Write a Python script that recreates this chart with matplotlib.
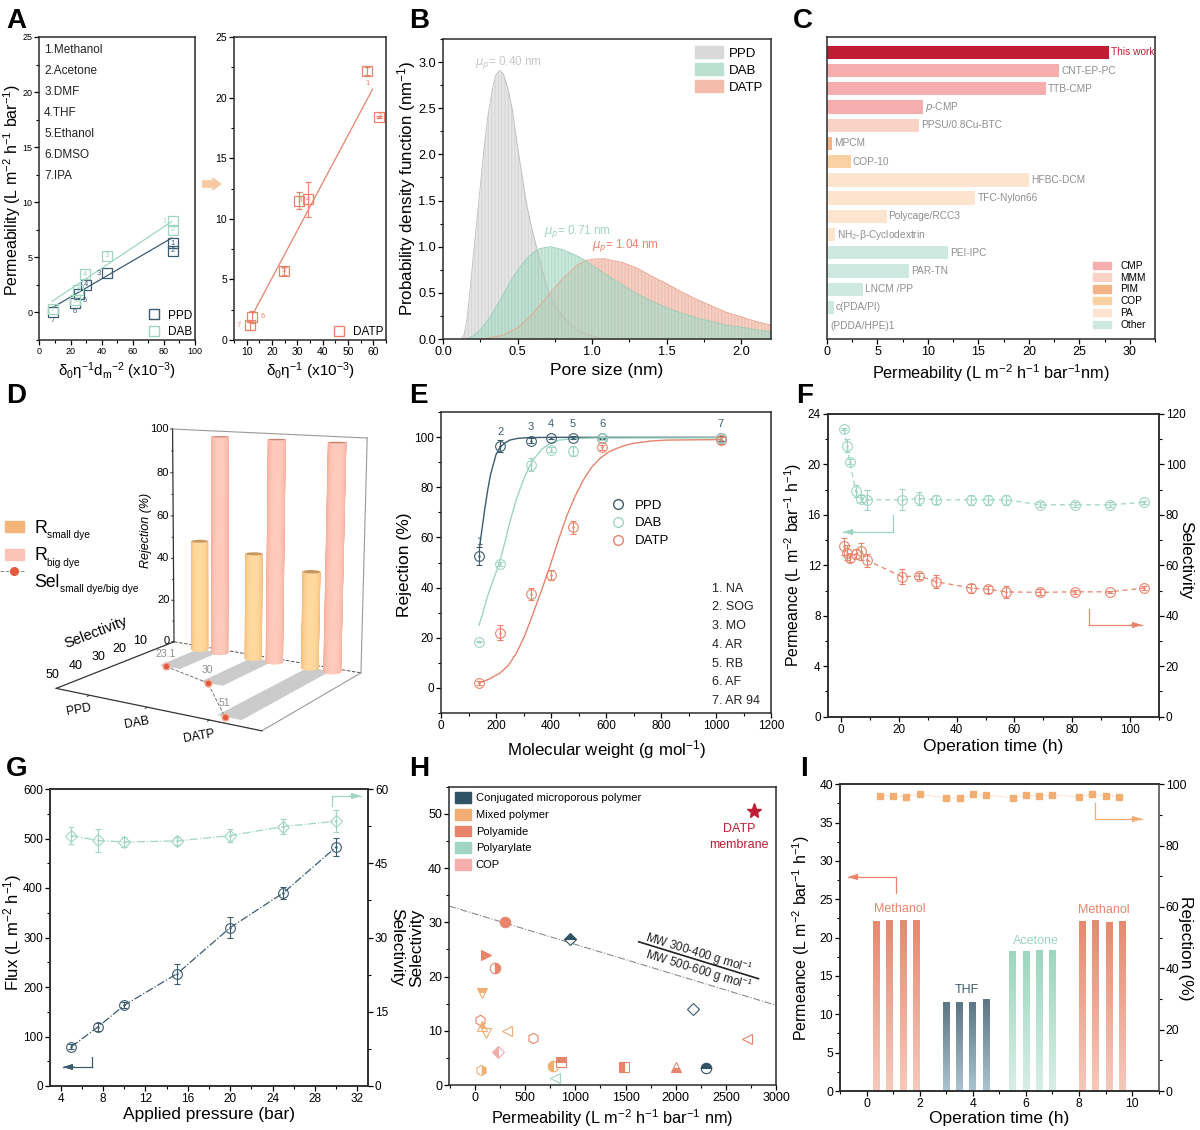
import numpy as np
import matplotlib
matplotlib.use('Agg')
import matplotlib.pyplot as plt
from matplotlib.colors import LinearSegmentedColormap
from matplotlib.lines import Line2D
from matplotlib.patches import Patch, Rectangle
from matplotlib.ticker import AutoMinorLocator, MultipleLocator
from mpl_toolkits.mplot3d import proj3d
from mpl_toolkits.mplot3d.art3d import Poly3DCollection

plt.rcParams['font.family'] = ['Liberation Sans', 'DejaVu Sans']
plt.rcParams['mathtext.default'] = 'regular'
plt.rcParams['axes.linewidth'] = 1.1
plt.rcParams['axes.edgecolor'] = '#2b2b2b'

NAVY = '#3b5c6e'
GREEN = '#9ed6c2'
RED = '#e8846c'
ORANGE = '#f2ae72'
GRAY = '#8c8c8c'
CRIMSON = '#c01c34'

# ---- A: permeability vs solvent parameter
solvent_names = ['1.Methanol', '2.Acetone', '3.DMF', '4.THF', '5.Ethanol', '6.DMSO', '7.IPA']
a_ppd_x = [85.6, 85.6, 43.3, 30, 25.7, 22.9, 8.6]
a_ppd_y = [6.3, 5.6, 3.55, 2.5, 1.67, 0.9, 0.0]
a_ppd_fit_x = [9, 85]
a_ppd_fit_y = [0.5, 6.75]
a_dab_x = [85.6, 85.6, 43.3, 29.5, 25, 23, 8.5]
a_dab_y = [8.3, 7.5, 5.15, 3.45, 2.0, 1.1, 0.3]
a_dab_fit_x = [8, 85]
a_dab_fit_y = [1.0, 8.25]
a_datp_x = [57.6, 62.4, 30.8, 34.3, 24.6, 12.1, 11.4]
a_datp_y = [22.2, 18.4, 11.5, 11.6, 5.7, 1.9, 1.2]
a_datp_err = [0.3, 0.1, 0.7, 1.45, 0.3, 0.5, 0.4]
a_datp_fit_x = [12.6, 59.7]
a_datp_fit_y = [2.2, 20.7]

# ---- B: pore size distributions
b_ppd_x = [.12, .14, .16, .18, .2, .225, .25, .275, .3, .33, .355, .38, .405, .435, .463, .485, .508, .535, .56, .595, .63, .67, .71, .77, .83, .89, .95, 1.05, 1.2]
b_ppd_y = [0, .04, .2, .5, .85, 1.25, 1.65, 2.07, 2.4, 2.7, 2.86, 2.91, 2.87, 2.72, 2.5, 2.25, 2.0, 1.72, 1.47, 1.2, .98, .72, .5, .31, .2, .11, .06, .01, 0]
b_dab_x = [.15, .2, .25, .3, .35, .4, .45, .5, .55, .6, .65, .72, .8, .9, .955, 1.0, 1.1, 1.2, 1.3, 1.4, 1.5, 1.6, 1.7, 1.8, 1.9, 2.0, 2.1, 2.2]
b_dab_y = [0, .03, .1, .2, .33, .47, .62, .74, .85, .93, .98, 1.0, .97, .9, .85, .8, .69, .59, .49, .41, .34, .28, .23, .19, .15, .13, .1, .08]
b_datp_x = [.25, .3, .4, .5, .6, .7, .8, .9, .955, 1.0, 1.08, 1.2, 1.3, 1.4, 1.5, 1.6, 1.7, 1.8, 1.9, 2.0, 2.1, 2.2]
b_datp_y = [0, .01, .04, .12, .27, .46, .65, .8, .85, .865, .87, .83, .77, .68, .6, .51, .43, .36, .29, .24, .19, .15]

# ---- C: literature comparison
c_names = ['This work', 'CNT-EP-PC', 'TTB-CMP', r'$\mathit{p}$-CMP', 'PPSU/0.8Cu-BTC', 'MPCM', 'COP-10', 'HFBC-DCM',
           'TFC-Nylon66', 'Polycage/RCC3', r'NH$_2$-β-Cyclodextrin', 'PEI-IPC', 'PAR-TN', 'LNCM /PP', 'c(PDA/PI)', '(PDDA/HPE)1']
c_values = [27.9, 23.0, 21.7, 9.5, 9.1, 0.5, 2.35, 20.0, 14.7, 5.9, 0.8, 12.0, 8.1, 3.6, 0.7, 0.1]
c_classes = ['work', 'CMP', 'CMP', 'CMP', 'MMM', 'PIM', 'COP', 'PA', 'PA', 'PA', 'PA', 'Other', 'Other', 'Other', 'Other', 'Other']
c_colors = {'work': CRIMSON, 'CMP': '#f5adad', 'MMM': '#fbd2c6', 'PIM': '#f3b586', 'COP': '#fad1a2', 'PA': '#fde4cf', 'Other': '#cde9e0'}

# ---- D: rejection and selectivity
d_names = ['PPD', 'DAB', 'DATP']
d_small = [50.5, 47.5, 42.5]
d_big = [98, 98, 98]
d_sel = [23.1, 30, 51]

# ---- E: rejection curves
e_mw = [139, 215, 327, 400, 479, 586, 1017]
e_ppd = [52.5, 96.5, 98.5, 99.7, 99.8, 99.5, 99.5]
e_ppd_err = [3.5, 2.5, 1, .3, .5, .3, 1]
e_dab = [18.5, 49.5, 89, 95, 94.5, 99.5, 99.5]
e_dab_err = [.3, .8, 2.5, 1, 2, .5, .5]
e_datp = [2, 22, 37.5, 45, 64, 96, 98.7]
e_datp_err = [.8, 3, 2.5, 2, 2.5, 1, 1.5]
e_ppd_fit_x = [140, 150, 160, 170, 180, 190, 200, 215, 230, 250, 280, 320, 400, 1017]
e_ppd_fit_y = [56, 64, 72, 79, 85, 89, 93, 96, 97.5, 98.8, 99.5, 99.8, 99.9, 99.9]
e_dab_fit_x = [138, 150, 165, 180, 200, 215, 230, 250, 275, 300, 320, 336, 365, 396, 430, 480, 550, 1017]
e_dab_fit_y = [25, 29, 35, 40, 46, 51, 57, 66, 75.5, 83, 88, 91, 95, 97.5, 98.8, 99.4, 99.6, 99.7]
e_datp_fit_x = [138, 175, 215, 245, 275, 305, 336, 366, 396, 427, 457, 488, 518, 548, 578, 609, 639, 670, 700, 760, 821, 1015]
e_datp_fit_y = [2, 3.5, 6, 9, 14, 21, 30, 39, 48.5, 59, 68.5, 76.5, 83, 88, 91.5, 94, 95.5, 96.7, 97.5, 98.4, 98.8, 99]
e_dyes = ['1. NA', '2. SOG', '3. MO', '4. AR', '5. RB', '6. AF', '7. AR 94']

# ---- F: long-term operation
f_time = [1, 2, 3, 5, 7, 9, 21, 27, 33, 45, 51, 57, 69, 81, 93, 105]
f_perm = [22.8, 21.5, 20.2, 17.9, 17.3, 17.2, 17.2, 17.3, 17.2, 17.2, 17.2, 17.2, 16.8, 16.8, 16.8, 17.0]
f_perm_err = [.1, .5, .2, .5, .3, .8, .85, .5, .35, .4, .4, .4, .2, .2, .2, .1]
f_sel = [67.5, 65, 63, 64.5, 65.5, 62, 55.5, 55.8, 53.5, 51, 50.5, 49.5, 49.3, 49.5, 49.5, 51]
f_sel_err = [3.5, 3, 1.5, 2, 3.5, 2.5, 3, 1.2, 2.5, 1.8, 1.5, 2.5, 1.2, .8, .5, .8]

# ---- G: pressure dependence
g_pressure = [5, 7.5, 10, 15, 20, 25, 30]
g_flux = [79, 119, 163, 227, 320, 390, 483]
g_flux_err = [5, 8, 6, 20, 22, 13, 18]
g_sel = [50.6, 49.6, 49.3, 49.5, 50.6, 52.4, 53.5]
g_sel_err = [1.7, 2.3, 1.0, .8, 1.4, 1.5, 2.2]

# ---- H: selectivity vs permeability
h_x = [300, 950, 110, 200, 70, 50, 70, 110, 320, 580, 230, 60, 780, 860, 1480, 2000, 2300, 2170, 2710, 800]
h_y = [30, 27, 24, 21.5, 17, 12, 10.8, 9.5, 10, 8.6, 6.1, 2.7, 3.5, 4.2, 3.3, 3.3, 3.1, 14, 8.5, 1.2]
h_marker = ['o', 'D', '>', 'o', 'v', 'h', '^', 'v', '<', 'h', 'D', 'h', 'o', 's', 's', '^', 'o', 'D', '<', '<']
h_fill = ['full', 'top', 'full', 'right', 'top', 'none', 'top', 'none', 'none', 'none', 'left', 'right', 'left', 'top', 'left', 'bottom', 'top', 'none', 'none', 'none']
h_color = [RED, '#2f5264', RED, RED, ORANGE, RED, ORANGE, ORANGE, ORANGE, RED, '#f5adad', ORANGE, ORANGE, RED, RED, RED, '#2f5264', NAVY, RED, GREEN]
h_bound_x = [-260, 3000]
h_bound_y = [33, 14.7]
h_divider_x = [1632, 2825]
h_divider_y = [26.4, 19.6]
h_groups = ['Conjugated microporous polymer', 'Mixed polymer', 'Polyamide', 'Polyarylate', 'COP']
h_group_colors = ['#2f5264', ORANGE, RED, GREEN, '#f5adad']

# ---- I: solvent switching
i_bar_x = [.375, .875, 1.375, 1.875, 3, 3.5, 4, 4.5, 5.5, 6, 6.5, 7, 8.125, 8.625, 9.125, 9.625]
i_perm = [22.1, 22.2, 22.3, 22.2, 11.6, 11.5, 11.5, 11.9, 18.2, 18.2, 18.3, 18.3, 22.1, 22.2, 22.0, 22.1]
i_rej_x = [.5, 1, 1.5, 2, 3, 3.5, 4, 4.5, 5.5, 6, 6.5, 7, 8, 8.5, 9, 9.5]
i_rej = [96.3, 96.1, 96, 96.7, 95.6, 95.5, 96.7, 96.5, 95.6, 96.5, 96.3, 96.5, 96, 96.7, 96.3, 96]

W, H = 1200, 1130
fig = plt.figure(figsize=(12, 11.3), dpi=100)


def fx(x):
    return x / W


def fy(y):
    return 1 - y / H


def make_axes(x0, y0, x1, y1, **kw):
    return fig.add_axes([fx(x0), fy(y1), (x1 - x0) / W, (y1 - y0) / H], **kw)


def style(ax, size=8.5, minor=True):
    ax.tick_params(which='major', direction='out', length=3.5, width=0.9, pad=1.5, labelsize=size)
    ax.tick_params(which='minor', direction='out', length=2, width=0.8)
    if minor:
        ax.xaxis.set_minor_locator(AutoMinorLocator(2))
        ax.yaxis.set_minor_locator(AutoMinorLocator(2))


def xlabel_at(ax, text, y_px, box, size=12.5):
    ax.set_xlabel(text, fontsize=size, va='center')
    ax.xaxis.set_label_coords(0.5, (box[3] - y_px) / (box[3] - box[1]))


def ylabel_at(ax, text, x_px, y_px, box, size=12.5, rotation=90):
    ax.set_ylabel(text, fontsize=size, va='center', rotation=rotation)
    ax.yaxis.set_label_coords((x_px - box[0]) / (box[2] - box[0]), (box[3] - y_px) / (box[3] - box[1]))


def bent_arrow(stem, corner, tip, color):
    fig.add_artist(Line2D([fx(stem[0]), fx(corner[0])], [fy(stem[1]), fy(corner[1])], color=color, lw=0.9))
    fig.add_artist(Line2D([fx(corner[0]), fx(tip[0])], [fy(corner[1]), fy(tip[1])], color=color, lw=0.9))
    head_from = tip[0] + (4 if tip[0] < corner[0] else -4)
    plt.annotate('', xy=(fx(tip[0]), fy(tip[1])), xytext=(fx(head_from) + (0.006 if tip[0] < corner[0] else -0.006), fy(tip[1])),
                 xycoords='figure fraction', textcoords='figure fraction',
                 arrowprops=dict(arrowstyle='-|>,head_width=0.18,head_length=0.55', color=color, lw=0.8, shrinkA=0, shrinkB=0))


def open_circles(ax, x, y, err, color, ls='none', marker='o', ms=7, label=None):
    ax.errorbar(x, y, yerr=err, fmt=marker, ls=ls, color=color, mfc='none', ms=ms, mew=0.8, elinewidth=0.8,
                capsize=2.5, capthick=0.8, lw=0.9, label=label)
    ax.plot(x, y, ls='none', marker='.', ms=1.5, color=color)


def text3d(ax, x, y, z, s, **kw):
    # project to the 2D view of the 3D axes so rotation is kept
    px, py, _ = proj3d.proj_transform(x, y, z, ax.get_proj())
    return ax.text2D(px, py, s, transform=ax.transData, ha=kw.pop('ha', 'center'), va=kw.pop('va', 'center'), **kw)


for letter, lx, ly in [('A', 6, 28), ('B', 409, 28), ('C', 793, 28), ('D', 6, 403), ('E', 409, 403), ('F', 796, 403),
                       ('G', 6, 776), ('H', 409, 776), ('I', 800, 776)]:
    fig.text(fx(lx), fy(ly), letter, fontsize=20, fontweight='bold', va='baseline')

# ---- panel A, left
box = (39.5, 37, 195, 340)
ax = make_axes(*box)
style(ax, 6.5)
for x, y, fit_x, fit_y, color in [(a_ppd_x, a_ppd_y, a_ppd_fit_x, a_ppd_fit_y, NAVY), (a_dab_x, a_dab_y, a_dab_fit_x, a_dab_fit_y, GREEN)]:
    ax.plot(fit_x, fit_y, color=color, lw=0.9)
    ax.plot(x, y, 's', ms=6.5, mfc='none', mec=color, mew=0.9)
ppd_offsets = [(0, 0), (0, 0), (-5.5, 0), (0, 0), (4, -4.5), (0, -6.5), (0, -5.5)]
for i in range(7):
    ax.annotate(str(i + 1), (a_ppd_x[i], a_ppd_y[i]), xytext=ppd_offsets[i], textcoords='offset points', fontsize=5.5, color=NAVY, ha='center', va='center')
    ax.annotate(str(i + 1), (a_dab_x[i], a_dab_y[i]), xytext=(-5.5 if i == 0 else 0, 0), textcoords='offset points', fontsize=5.5, color=GREEN, ha='center', va='center')
ax.set_xlim(0, 100)
ax.set_ylim(-2.5, 25)
ax.xaxis.set_major_locator(MultipleLocator(20))
ax.yaxis.set_major_locator(MultipleLocator(5))
xlabel_at(ax, 'δ$_0$η$^{-1}$d$_m$$^{-2}$ (x10$^{-3}$)', 371, box, size=10.8)
ylabel_at(ax, 'Permeability (L m$^{-2}$ h$^{-1}$ bar$^{-1}$)', 12, 190, box, size=11.5)
for i, name in enumerate(solvent_names):
    ax.text(0.03, 0.957 - i * 0.0695, name, transform=ax.transAxes, fontsize=8.5, color='#222222', va='center')
ax.legend(handles=[Line2D([], [], marker='s', ls='none', ms=6.5, mfc='none', mec=NAVY, label='PPD'),
                   Line2D([], [], marker='s', ls='none', ms=6.5, mfc='none', mec=GREEN, label='DAB')],
          loc='lower right', frameon=False, fontsize=8.5, borderaxespad=0.1, borderpad=0.1, labelspacing=0.35, handletextpad=0.2)

# ---- panel A, right
box = (234, 37, 386, 340)
ax = make_axes(*box)
style(ax, 7.5)
ax.plot(a_datp_fit_x, a_datp_fit_y, color=RED, lw=0.9)
ax.errorbar(a_datp_x, a_datp_y, yerr=a_datp_err, fmt='s', color=RED, mfc='none', ms=6.5, mew=0.9, elinewidth=0.8, capsize=2.5, capthick=0.8)
datp_offsets = [(0, -9), (0, 0), (0, 0), (0, 0), (0, 0), (8, 0), (-8, 0)]
for i in range(7):
    ax.annotate(str(i + 1), (a_datp_x[i], a_datp_y[i]), xytext=datp_offsets[i], textcoords='offset points', fontsize=5.5, color=RED, ha='center', va='center')
ax.set_xlim(5, 65)
ax.set_ylim(0, 25)
ax.xaxis.set_major_locator(MultipleLocator(10))
ax.yaxis.set_major_locator(MultipleLocator(5))
xlabel_at(ax, 'δ$_0$η$^{-1}$ (x10$^{-3}$)', 371, box, size=11)
ax.legend(handles=[Line2D([], [], marker='s', ls='none', ms=6.5, mfc='none', mec=RED, label='DATP')],
          loc='lower right', frameon=False, fontsize=8.5, borderaxespad=0.1, borderpad=0.1, handletextpad=0.2)
plt.annotate('', xy=(fx(222), fy(184)), xytext=(fx(202), fy(184)), xycoords='figure fraction', textcoords='figure fraction',
             arrowprops=dict(arrowstyle='simple,head_width=1.0,tail_width=0.55,head_length=0.7', color='#f9c9a2', lw=0, shrinkA=0, shrinkB=0))

# ---- panel B
box = (443, 39, 771, 339)
ax = make_axes(*box)
style(ax, 9.2)
for x, y, color, edge, label in [(b_ppd_x, b_ppd_y, '#d9d9d9', '#bdbdbd', 'PPD'), (b_datp_x, b_datp_y, '#f1b7a6', '#e8a08c', 'DATP'),
                                 (b_dab_x, b_dab_y, '#aedcc9', '#93cdb7', 'DAB')]:
    ax.fill_between(x, 0, y, color=color, alpha=0.65, lw=0)
    ax.fill_between(x, 0, y, facecolor='none', edgecolor=edge, hatch='|||||', lw=0, alpha=0.35)
    ax.plot(x, y, color=edge, lw=0.6)
ax.set_xlim(0, 2.2)
ax.set_ylim(0, 3.25)
ax.xaxis.set_major_locator(MultipleLocator(0.5))
ax.yaxis.set_major_locator(MultipleLocator(0.5))
ax.text(0.215, 3.0, r'$\mathit{\mu_p}$= 0.40 nm', color='#c8c8c8', fontsize=8.5, va='center')
ax.text(0.68, 1.16, r'$\mathit{\mu_p}$= 0.71 nm', color=GREEN, fontsize=8.5, va='center')
ax.text(1.0, 1.01, r'$\mathit{\mu_p}$= 1.04 nm', color=RED, fontsize=8.5, va='center')
ax.legend(handles=[Patch(color='#d9d9d9', label='PPD'), Patch(color='#b9e0d0', label='DAB'), Patch(color='#f3bcab', label='DATP')],
          loc='upper right', frameon=False, fontsize=9.5, borderaxespad=0.15, labelspacing=0.28, handlelength=2.1, handleheight=1.0, handletextpad=0.5)
xlabel_at(ax, 'Pore size (nm)', 371, box)
ylabel_at(ax, 'Probability density function (nm$^{-1}$)', 407, 188, box, size=12.2)

# ---- panel C
box = (827, 37, 1155, 339)
ax = make_axes(*box)
style(ax, 9)
positions = np.arange(len(c_values))
ax.barh(positions, c_values, height=0.73, color=[c_colors[c] for c in c_classes])
for pos, value, name in zip(positions, c_values, c_names):
    ax.text(value + 0.2, pos, name, fontsize=7.3, va='center', color=CRIMSON if pos == 0 else '#8f8f8f')
ax.set_xlim(0, 32.5)
ax.set_ylim(15.73, -0.84)
ax.set_yticks([])
ax.xaxis.set_major_locator(MultipleLocator(5))
ax.xaxis.set_minor_locator(AutoMinorLocator(2))
ax.legend(handles=[Patch(color=c_colors[k], label=k) for k in ['CMP', 'MMM', 'PIM', 'COP', 'PA', 'Other']], loc='lower right',
          frameon=False, fontsize=7.3, borderaxespad=0.5, labelspacing=0.18, handlelength=1.8, handleheight=0.75, handletextpad=0.9)
xlabel_at(ax, 'Permeability (L m$^{-2}$ h$^{-1}$ bar$^{-1}$nm)', 373, box, size=11.7)

# ---- panel D
ax = make_axes(-3, 378, 417, 758, projection='3d', proj_type='persp', focal_length=0.54)
ax.patch.set_alpha(0)
ax.view_init(elev=11, azim=-58)
ax.set_box_aspect((707, 632, 735), zoom=1.02)
ax.set_axis_off()
ax.computed_zorder = False
xmin, xmax, ymax, zmax = 0.39, 3.79, 55, 100
ax.set_xlim(xmin, xmax)
ax.set_ylim(ymax, 0)
ax.set_zlim(0, zmax)
frame_gray = '#9a9a9a'
ax.plot([xmin, xmin], [0, 0], [0, zmax], color='#333333', lw=0.9, zorder=1)
ax.plot([xmin, xmax], [0, 0], [zmax, zmax], color=frame_gray, lw=0.8, zorder=1)
ax.plot([xmax, xmax], [0, 0], [0, zmax], color=frame_gray, lw=0.8, zorder=1)
ax.plot([xmin, xmax], [0, 0], [0, 0], color='#555555', lw=0.7, ls='--', zorder=1)
ax.plot([xmax, xmax], [0, ymax], [0, 0], color=frame_gray, lw=0.8, zorder=1)
ax.plot([xmin, xmin], [0, ymax], [0, 0], color='#333333', lw=0.9, zorder=1)
ax.plot([xmin, xmax], [ymax, ymax], [0, 0], color='#333333', lw=0.9, zorder=1)
for z in range(0, 101, 10):
    ax.plot([xmin - (0.04 if z % 20 == 0 else 0.02), xmin], [0, 0], [z, z], color='#333333', lw=0.7, zorder=1)
for z in range(0, 101, 20):
    text3d(ax, xmin - 0.08, 0, z, str(z), fontsize=8, ha='right')
for s in range(10, 51, 10):
    text3d(ax, xmin - 0.3, s, 2.5, str(s), fontsize=9)
text3d(ax, xmin - 0.55, 0, 52, 'Rejection (%)', fontsize=9, rotation=90, style='italic')
text3d(ax, xmin - 0.48, 27, 12, 'Selectivity', fontsize=10.5, rotation=21)
for i, name in enumerate(d_names):
    ax.plot([i + 1, i + 1], [ymax, ymax + 1], [0, 0], color='#333333', lw=0.7, zorder=1)
    text3d(ax, i + 1 - 0.03, ymax + 4, -4.5, name, fontsize=8.7, rotation=10)
theta = np.radians(np.linspace(-32, 148, 31))
circle = np.linspace(0, 2 * np.pi, 41)
y_base, x_r, y_r = 3.0, 0.13, 2.4
bar_shift, strip_shift, point_shift = 0.2, 0.17, 0.1
shade = (np.linspace(-1, 1, 30) ** 2)[None, :]
orange_map = LinearSegmentedColormap.from_list('o', ['#ffd99c', '#f5b576'])
pink_map = LinearSegmentedColormap.from_list('p', ['#ffcabb', '#f7a797'])
for i in range(3):
    c = i + 1 + strip_shift
    strip = [(c - 0.19, y_base, 0), (c + 0.19, y_base, 0), (c + 0.19, d_sel[i], 0), (c - 0.19, d_sel[i], 0)]
    ax.add_collection3d(Poly3DCollection([strip], facecolor='#cbcbcb', edgecolor='none', zorder=2))
point_x = [i + 1 + point_shift for i in range(3)]
ax.plot(point_x, d_sel, [0, 0, 0], color='#777777', lw=0.7, ls='--', zorder=3)
ax.scatter(point_x, d_sel, [0, 0, 0], color='#e2593c', edgecolor='#f3a690', s=24, depthshade=False, zorder=4)
for i in range(3):
    text3d(ax, point_x[i], d_sel[i], 5.5, str(d_sel[i]), fontsize=7.5, color=GRAY, zorder=4)
order = 5
for i in range(3):
    for offset, value, cmap, cap in [(-0.19, d_small[i], orange_map, '#c9965e'), (0.19, d_big[i], pink_map, '#c97f70')]:
        cx = i + 1 + bar_shift + offset
        X = cx + x_r * np.cos(theta)[None, :].repeat(2, axis=0)
        Y = y_base + y_r * np.sin(theta)[None, :].repeat(2, axis=0)
        Z = np.array([[0.0], [value]]).repeat(len(theta), axis=1)
        ax.plot_surface(X, Y, Z, facecolors=cmap(shade), shade=False, rstride=1, cstride=1, lw=0.4, antialiased=True, zorder=order)
        top = list(zip(cx + x_r * np.cos(circle), y_base + y_r * np.sin(circle), np.full_like(circle, value)))
        ax.add_collection3d(Poly3DCollection([top], facecolor=cap, edgecolor='none', zorder=order + 1))
        order += 2
ax.set_xlim(xmin, xmax)
ax.set_ylim(ymax, 0)
ax.set_zlim(0, zmax)
fig.add_artist(Rectangle((fx(5), fy(532)), 19 / W, 11 / H, transform=fig.transFigure, color='#f5b478'))
fig.add_artist(Rectangle((fx(5), fy(560)), 19 / W, 11 / H, transform=fig.transFigure, color='#fbc4b6'))
fig.add_artist(Line2D([fx(0), fx(24)], [fy(571), fy(571)], color='#888888', lw=0.7, ls='--'))
fig.add_artist(Line2D([fx(13.5)], [fy(571)], marker='o', ms=5.5, color='#e2593c', ls='none'))
fig.text(fx(34), fy(533), 'R', fontsize=12.7, va='baseline')
fig.text(fx(47), fy(538), 'small dye', fontsize=7.3, va='baseline')
fig.text(fx(34), fy(560), 'R', fontsize=12.7, va='baseline')
fig.text(fx(47), fy(566), 'big dye', fontsize=7.3, va='baseline')
fig.text(fx(34), fy(587), 'Sel', fontsize=12.7, va='baseline')
fig.text(fx(60), fy(592), 'small dye/big dye', fontsize=7.3, va='baseline')

# ---- panel E
box = (441, 412, 771, 713)
ax = make_axes(*box)
style(ax, 8.5)
ax.plot(e_ppd_fit_x, e_ppd_fit_y, color=NAVY, lw=1)
ax.plot(e_dab_fit_x, e_dab_fit_y, color=GREEN, lw=1)
ax.plot(e_datp_fit_x, e_datp_fit_y, color=RED, lw=1)
open_circles(ax, e_mw, e_ppd, e_ppd_err, NAVY, label='PPD')
open_circles(ax, e_mw, e_dab, e_dab_err, GREEN, label='DAB')
open_circles(ax, e_mw, e_datp, e_datp_err, RED, label='DATP')
for i, (mw, y) in enumerate(zip(e_mw, e_ppd)):
    ax.annotate(str(i + 1), (mw, y), xytext=(0, 10), textcoords='offset points', fontsize=8, color=NAVY, ha='center', va='center')
ax.set_xlim(0, 1200)
ax.set_ylim(-10, 110)
ax.xaxis.set_major_locator(MultipleLocator(200))
ax.yaxis.set_major_locator(MultipleLocator(20))
ax.legend(handles=[Line2D([], [], marker='o', ls='none', ms=7, mfc='none', mec=c, label=n) for c, n in [(NAVY, 'PPD'), (GREEN, 'DAB'), (RED, 'DATP')]],
          loc='center left', bbox_to_anchor=(0.46, 0.63), frameon=False, fontsize=9.5, labelspacing=0.42, handletextpad=0.3)
for i, name in enumerate(e_dyes):
    ax.text(0.82, 0.413 - i * 0.0623, name, transform=ax.transAxes, fontsize=9, color='#222222', va='center')
xlabel_at(ax, 'Molecular weight (g mol$^{-1}$)', 750, box, size=12.2)
ylabel_at(ax, 'Rejection (%)', 404, 565, box)

# ---- panel F
box = (827.7, 414, 1158.7, 716.7)
ax = make_axes(*box)
style(ax, 8.5)
open_circles(ax, f_time, f_perm, f_perm_err, GREEN, ls=(0, (4, 3)))
ax.set_xlim(-4.7, 110)
ax.set_ylim(0, 24)
ax.xaxis.set_major_locator(MultipleLocator(20))
ax.yaxis.set_major_locator(MultipleLocator(4))
xlabel_at(ax, 'Operation time (h)', 747, box)
ylabel_at(ax, 'Permeance (L m$^{-2}$ bar$^{-1}$ h$^{-1}$)', 793, 565, box, size=11.4)
ax2 = ax.twinx()
open_circles(ax2, f_time, f_sel, f_sel_err, RED, ls=(0, (4, 3)))
ax2.set_ylim(0, 120)
ax2.tick_params(which='major', direction='out', length=3.5, width=0.9, pad=1.5, labelsize=8.5)
ax2.tick_params(which='minor', direction='out', length=2, width=0.8)
ax2.yaxis.set_major_locator(MultipleLocator(20))
ax2.yaxis.set_minor_locator(AutoMinorLocator(2))
ylabel_at(ax2, 'Selectivity', 1186, 560, box, rotation=270)
bent_arrow((893, 515), (893, 532), (843, 532), GREEN)
bent_arrow((1089, 609), (1089, 625), (1142, 625), RED)

# ---- panel G
box = (50, 789, 368, 1086)
ax = make_axes(*box)
style(ax, 8.5)
open_circles(ax, g_pressure, g_flux, g_flux_err, NAVY, ls='-.')
ax.set_xlim(3, 33)
ax.set_ylim(0, 600)
ax.xaxis.set_major_locator(MultipleLocator(4))
ax.yaxis.set_major_locator(MultipleLocator(100))
xlabel_at(ax, 'Applied pressure (bar)', 1115, box)
ylabel_at(ax, 'Flux (L m$^{-2}$ h$^{-1}$)', 13, 932, box, size=12)
ax2 = ax.twinx()
open_circles(ax2, g_pressure, g_sel, g_sel_err, GREEN, ls='-.', marker='D', ms=6.5)
ax2.set_ylim(0, 60)
ax2.tick_params(which='major', direction='out', length=3.5, width=0.9, pad=1.5, labelsize=8.5)
ax2.tick_params(which='minor', direction='out', length=2, width=0.8)
ax2.yaxis.set_major_locator(MultipleLocator(15))
ax2.yaxis.set_minor_locator(AutoMinorLocator(2))
ylabel_at(ax2, 'Selectivity', 397, 947, box, rotation=270)
bent_arrow((92, 1057), (92, 1067), (63, 1067), NAVY)
bent_arrow((332, 806), (332, 796), (361, 796), GREEN)

# ---- panel H
box = (449, 786.7, 776, 1085)
ax = make_axes(*box)
style(ax, 9)
ax.plot(h_bound_x, h_bound_y, color='#8a8a8a', lw=0.8, ls='-.')
ax.plot(h_divider_x, h_divider_y, color='#222222', lw=1.2)
for x, y, m, f, c in zip(h_x, h_y, h_marker, h_fill, h_color):
    ax.plot(x, y, marker=m, ms=5.8 if m == 'D' else 7.5, fillstyle=f, color=c, mfc=c if f != 'none' else 'none', markerfacecoloralt='white', mec=c, mew=0.8, ls='none')
ax.plot(2780, 50.5, marker='*', ms=11, color=CRIMSON, ls='none')
ax.set_xlim(-260, 3000)
ax.set_ylim(0, 55)
ax.xaxis.set_major_locator(MultipleLocator(500))
ax.yaxis.set_major_locator(MultipleLocator(10))
ax.text(2635, 47.2, 'DATP', color=CRIMSON, fontsize=9, ha='center', va='center')
ax.text(2635, 44.2, 'membrane', color=CRIMSON, fontsize=9, ha='center', va='center')
ax.text(2230, 24.3, 'MW 300-400 g mol$^{-1}$', fontsize=8.5, rotation=-17, ha='center', va='center', color='#222222')
ax.text(2230, 21.2, 'MW 500-600 g mol$^{-1}$', fontsize=8.5, rotation=-17, ha='center', va='center', color='#222222')
ax.legend(handles=[Patch(color=c, label=n) for c, n in zip(h_group_colors, h_groups)], loc='upper left', frameon=False, fontsize=8,
          borderaxespad=0.1, labelspacing=0.5, handlelength=1.5, handleheight=1.1, handletextpad=0.4)
xlabel_at(ax, 'Permeability (L m$^{-2}$ h$^{-1}$ bar$^{-1}$ nm)', 1118, box, size=11.7)
ylabel_at(ax, 'Selectivity', 417, 948, box)

# ---- panel I
box = (840, 784.3, 1158.7, 1091)
ax = make_axes(*box)
style(ax, 8.8)
bar_maps = [('#f6c9bc', '#e58a70'), ('#a9c3d0', '#5d7685'), ('#d7efe6', '#9dd6bf'), ('#f6c9bc', '#e58a70')]
for i, (x, y) in enumerate(zip(i_bar_x, i_perm)):
    cmap = LinearSegmentedColormap.from_list('b', bar_maps[i // 4])
    ax.imshow(np.linspace(0, 1, 64)[:, None], extent=(x - 0.125, x + 0.125, 0, y), origin='lower', aspect='auto', cmap=cmap, zorder=2)
ax.set_xlim(-1, 11)
ax.set_ylim(0, 40)
ax.xaxis.set_major_locator(MultipleLocator(2))
ax.yaxis.set_major_locator(MultipleLocator(5))
for x, y, name, color in [(1.24, 23.8, 'Methanol', RED), (3.78, 13.2, 'THF', NAVY), (6.37, 19.6, 'Acetone', GREEN), (8.95, 23.6, 'Methanol', RED)]:
    ax.text(x, y, name, color=color, fontsize=9, ha='center', va='center')
xlabel_at(ax, 'Operation time (h)', 1119, box)
ylabel_at(ax, 'Permeance (L m$^{-2}$ bar$^{-1}$ h$^{-1}$)', 801, 938, box, size=11.5)
ax2 = ax.twinx()
ax2.plot(i_rej_x, i_rej, color=ORANGE, marker='s', ms=4.8, lw=0.6, ls=':')
ax2.set_ylim(0, 100)
ax2.tick_params(which='major', direction='out', length=3.5, width=0.9, pad=1.5, labelsize=8.8)
ax2.tick_params(which='minor', direction='out', length=2, width=0.8)
ax2.yaxis.set_major_locator(MultipleLocator(20))
ax2.yaxis.set_minor_locator(AutoMinorLocator(2))
ax2.spines['right'].set_color('#777777')
ylabel_at(ax2, 'Rejection (%)', 1185, 948, box, rotation=270)
bent_arrow((1095, 803), (1095, 819), (1142, 819), ORANGE)
bent_arrow((896, 893), (896, 877), (848, 877), RED)

fig.savefig('out.png', dpi=100)
